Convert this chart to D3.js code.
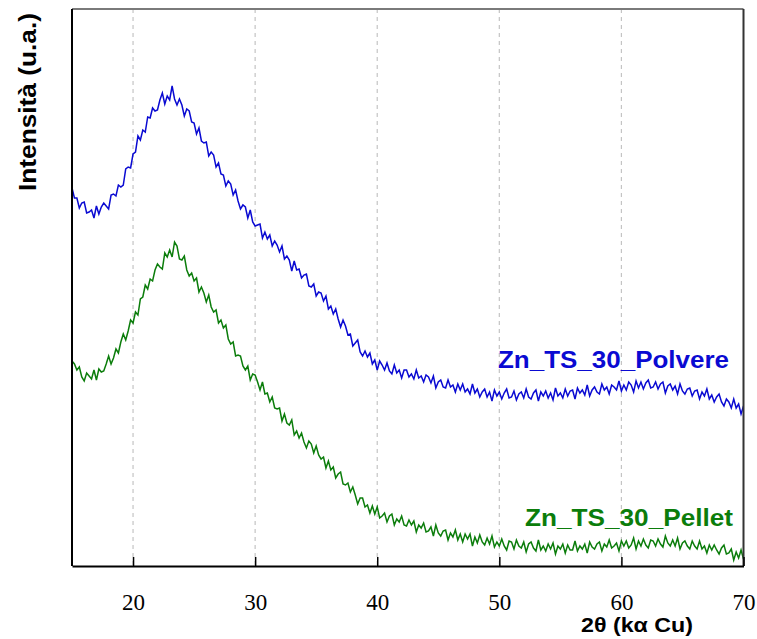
<!DOCTYPE html>
<html>
<head>
<meta charset="utf-8">
<script src="https://cdn.jsdelivr.net/npm/d3@7/dist/d3.min.js"></script>
<style>
  html, body { margin: 0; padding: 0; background: #fff; }
  svg { display: block; }
</style>
</head>
<body>
<svg id="chart" width="757" height="639"></svg>
<script>
// XRD patterns, 2θ scan from 15° to 70°, one sample every 0.2°
const scanStart = 15;
const scanStep = 0.2;

// Intensity (a.u.) of the powder sample
const polvere = [
  378,368,368,358,363,364,353,354,356,348,360,352,359,363,360,357,371,372,370,381,
  379,381,397,399,398,412,414,430,426,436,434,449,448,458,455,456,466,473,462,470,
  466,480,467,461,467,461,450,457,455,444,443,432,438,425,423,424,410,414,411,399,
  403,392,391,380,385,382,371,376,365,357,361,359,348,356,344,340,341,342,328,334,
  327,331,320,325,321,314,320,307,310,306,295,305,296,297,288,291,292,280,279,282,
  270,274,273,265,270,257,260,252,257,247,239,246,240,231,232,220,223,226,214,210,
  215,209,213,202,206,196,205,201,196,203,195,192,201,193,196,188,196,196,189,192,
  187,196,188,190,184,191,189,183,190,178,184,186,179,178,186,179,181,174,182,176,
  182,174,177,172,182,173,177,169,174,177,169,174,165,176,170,174,167,173,177,168,
  169,175,166,172,174,168,177,169,167,173,176,165,174,170,175,168,173,166,178,170,
  173,168,177,170,175,176,167,178,173,176,171,181,170,176,179,174,172,182,176,179,
  172,181,179,176,185,175,181,176,184,181,174,185,178,184,177,183,186,178,179,184,
  177,182,184,173,180,182,176,180,172,182,175,172,177,178,170,175,176,167,174,170,
  177,167,171,164,169,172,164,160,167,164,158,167,158,162,152,160
];

// Intensity (a.u.) of the pellet sample
const pellet = [
  205,202,196,199,189,185,193,190,187,196,186,197,194,195,202,210,202,208,217,213,
  224,232,226,235,246,243,254,251,267,269,281,277,287,285,296,302,299,297,313,309,
  316,309,324,320,307,306,310,296,290,293,285,288,274,279,273,264,271,259,254,256,
  243,246,238,241,227,222,224,210,211,210,200,196,200,186,192,191,184,176,184,172,
  173,164,169,158,157,158,145,152,143,141,146,131,135,128,133,124,118,125,122,113,
  120,111,107,109,98,105,96,99,88,92,94,82,81,83,74,79,71,62,68,68,
  59,61,53,60,52,59,48,50,53,44,50,52,41,47,44,50,41,40,46,41,
  45,34,41,38,43,34,35,39,30,41,33,30,35,36,26,33,29,36,26,32,
  24,32,27,32,20,29,23,31,24,21,28,22,30,19,24,20,27,20,16,25,
  24,17,26,20,18,24,14,22,24,18,15,26,16,20,15,22,17,23,12,20,
  17,22,13,21,16,16,25,15,20,17,22,13,24,19,17,22,24,15,22,19,
  26,18,20,23,15,25,20,25,18,21,28,17,25,20,27,21,18,26,25,20,
  27,22,19,30,23,20,26,20,28,17,23,25,20,17,25,20,17,25,17,20,
  13,21,16,21,16,12,18,21,12,13,17,6,14,8,16,7
];

const series = [
  { name: "Zn_TS_30_Polvere", values: polvere, color: "#0a0ad2" },
  { name: "Zn_TS_30_Pellet", values: pellet, color: "#0b7d0b" }
];

const xTicks = [20, 30, 40, 50, 60, 70];
const gridTicks = [20, 30, 40, 50, 60];

const svg = d3.select("#chart");

const plot = { left: 72, right: 743.5, top: 9, bottom: 566 };

const x = d3.scaleLinear().domain([15, 70]).range([plot.left, plot.right]);
const y = d3.scaleLinear().domain([0, 557]).range([plot.bottom, plot.top]);

// dashed vertical grid
svg.append("g")
  .selectAll("line")
  .data(gridTicks)
  .join("line")
  .attr("x1", d => x(d)).attr("x2", d => x(d))
  .attr("y1", plot.top).attr("y2", plot.bottom)
  .attr("stroke", "#c4c4c4")
  .attr("stroke-width", 1.2)
  .attr("stroke-dasharray", "4,4");

// traces
const line = d3.line()
  .x((d, i) => x(scanStart + i * scanStep))
  .y(d => y(d));

svg.append("clipPath").attr("id", "plotClip")
  .append("rect")
  .attr("x", plot.left).attr("y", plot.top)
  .attr("width", plot.right - plot.left).attr("height", plot.bottom - plot.top);

svg.append("g")
  .attr("clip-path", "url(#plotClip)")
  .selectAll("path")
  .data(series)
  .join("path")
  .attr("fill", "none")
  .attr("stroke", d => d.color)
  .attr("stroke-width", 1.5)
  .attr("stroke-linejoin", "miter")
  .attr("d", d => line(d.values));

// frame
svg.append("line")
  .attr("x1", plot.left).attr("x2", plot.right)
  .attr("y1", plot.top).attr("y2", plot.top)
  .attr("stroke", "#7a7a7a").attr("stroke-width", 2);
svg.append("line")
  .attr("x1", plot.right).attr("x2", plot.right)
  .attr("y1", plot.top).attr("y2", plot.bottom)
  .attr("stroke", "#333").attr("stroke-width", 2);
svg.append("line")
  .attr("x1", plot.left).attr("x2", plot.left)
  .attr("y1", plot.top).attr("y2", plot.bottom)
  .attr("stroke", "#000").attr("stroke-width", 2);

// bottom axis with inward ticks
const xAxis = d3.axisBottom(x)
  .tickValues(xTicks)
  .tickSizeInner(-9)
  .tickSizeOuter(0)
  .tickPadding(28)
  .tickFormat(d3.format("d"));

const gx = svg.append("g")
  .attr("transform", `translate(0,${plot.bottom})`)
  .call(xAxis);
gx.select(".domain").attr("stroke", "#000").attr("stroke-width", 2);
gx.selectAll(".tick line").attr("stroke", "#000").attr("stroke-width", 1.5);
gx.selectAll(".tick text")
  .attr("font-family", "'Liberation Serif', 'Times New Roman', serif")
  .attr("font-size", 23)
  .attr("fill", "#000");

// axis titles
svg.append("text")
  .attr("x", 637).attr("y", 632)
  .attr("text-anchor", "middle")
  .attr("font-family", "'Liberation Sans', Arial, sans-serif")
  .attr("font-weight", "bold")
  .attr("font-size", 20)
  .attr("textLength", 112)
  .attr("lengthAdjust", "spacingAndGlyphs")
  .text("2θ (kα Cu)");

svg.append("text")
  .attr("transform", "translate(36,102) rotate(-90)")
  .attr("text-anchor", "middle")
  .attr("font-family", "'Liberation Sans', Arial, sans-serif")
  .attr("font-weight", "bold")
  .attr("font-size", 24)
  .attr("textLength", 178)
  .attr("lengthAdjust", "spacingAndGlyphs")
  .text("Intensità (u.a.)");

// series labels
const labels = [
  { text: series[0].name, color: series[0].color, x: 498, y: 368, len: 231 },
  { text: series[1].name, color: series[1].color, x: 525, y: 526, len: 208 }
];
svg.append("g")
  .selectAll("text")
  .data(labels)
  .join("text")
  .attr("x", d => d.x).attr("y", d => d.y)
  .attr("font-family", "'Liberation Sans', Arial, sans-serif")
  .attr("font-weight", "bold")
  .attr("font-size", 23)
  .attr("fill", d => d.color)
  .attr("textLength", d => d.len)
  .attr("lengthAdjust", "spacingAndGlyphs")
  .text(d => d.text);
</script>
</body>
</html>
